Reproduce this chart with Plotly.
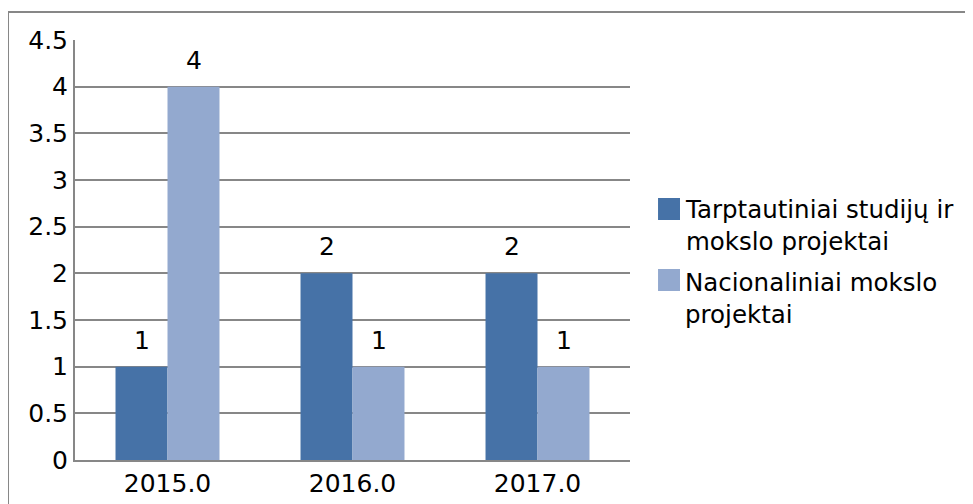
import plotly.graph_objects as go

years = ["2015.0", "2016.0", "2017.0"]
tarptautiniai = [1, 2, 2]
nacionaliniai = [4, 1, 1]
names = ["Tarptautiniai studijų ir<br>mokslo projektai", "Nacionaliniai mokslo<br>projektai"]
colors = ["#4672A7", "#93A9CF"]

fig = go.Figure()
fig.add_trace(go.Bar(x=years, y=tarptautiniai, name=names[0], marker_color=colors[0]))
fig.add_trace(go.Bar(x=years, y=nacionaliniai, name=names[1], marker_color=colors[1]))
fig.update_traces(marker_line_width=0)

# data labels above the bars (category index as x, numeric-looking names confuse plotly)
for series, shift in [(tarptautiniai, -26), (nacionaliniai, 26)]:
    for i, v in enumerate(series):
        fig.add_annotation(x=i, y=v, text=str(v), showarrow=False, xref="x", yref="y",
                           xshift=shift, yshift=10, yanchor="bottom",
                           font=dict(size=25, color="black"))

# outer frame of the chart
fig.add_shape(type="rect", xref="paper", yref="paper", x0=-0.1207, x1=1.8, y0=-0.3, y1=1.0667,
              line=dict(color="#878787", width=2), layer="below")

# legend drawn by hand (big square keys, wrapped text)
keys = [(0.6238, 0.5714, 0.558), (0.4548, 0.4024, 0.3845)]
for (y1, y0, ym), name, c in zip(keys, names, colors):
    fig.add_shape(type="rect", xref="paper", yref="paper", x0=1.0505, x1=1.0901, y0=y0, y1=y1,
                  fillcolor=c, line=dict(width=0))
    fig.add_annotation(xref="paper", yref="paper", x=1.095, y=ym, text=name, showarrow=False,
                       xanchor="left", yanchor="middle", align="left",
                       font=dict(size=24.5, color="black"))

fig.update_layout(
    width=973, height=504,
    margin=dict(l=67, r=351, t=32, b=52, autoexpand=False),
    paper_bgcolor="white", plot_bgcolor="white",
    font=dict(family="DejaVu Sans", size=25, color="black"),
    barmode="group", bargap=0.438, bargroupgap=0,
    showlegend=False,
    xaxis=dict(type="category", range=[-0.5, 2.5], showline=True, linecolor="#878787",
               linewidth=2, ticks="", showgrid=False, automargin=False),
    yaxis=dict(range=[0, 4.5], dtick=0.5, showline=True, linecolor="#878787", linewidth=2,
               gridcolor="#878787", gridwidth=1.5, ticks="", zeroline=False, automargin=False),
)

fig.write_html("out.html")
